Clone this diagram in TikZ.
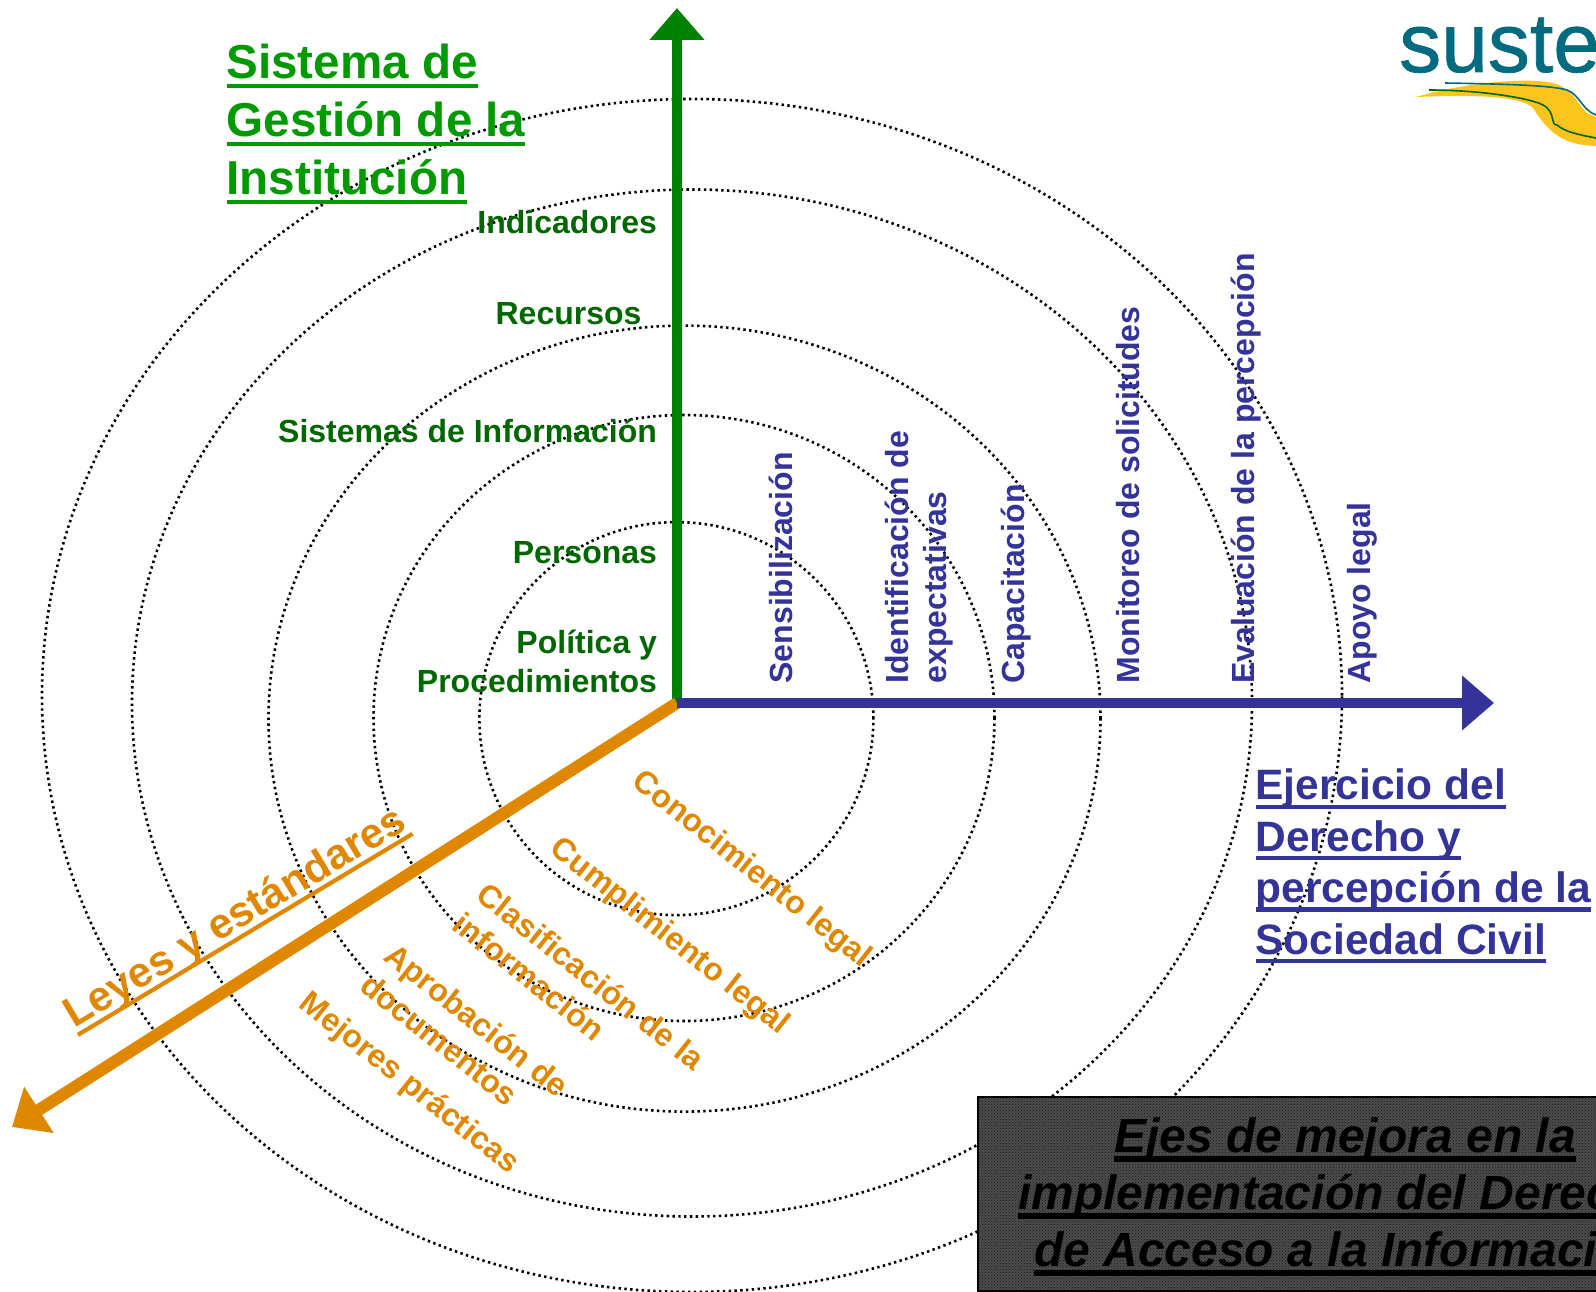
\documentclass[tikz,border=0pt]{standalone}
\usepackage{fontspec}
\usepackage{xcolor}
\usepackage{tikz}
\usetikzlibrary{arrows.meta, patterns}
\setmainfont{Liberation Sans}
\newfontfamily\logofont[FakeBold=0.9]{Liberation Sans}
\definecolor{ejegreen}{RGB}{0,130,0}
\definecolor{titlegreen}{RGB}{0,153,0}
\definecolor{labelgreen}{RGB}{0,102,0}
\definecolor{ejeblue}{RGB}{51,51,153}
\definecolor{ejeorange}{RGB}{224,135,0}
\definecolor{logoteal}{RGB}{0,106,127}
\definecolor{logoyellow}{RGB}{253,196,30}
\newsavebox{\ulbox}
\newlength{\ulthick}
\newlength{\uldrop}
\setlength{\ulthick}{4.2pt}
\setlength{\uldrop}{9pt}
\newcommand{\ulined}[1]{\sbox{\ulbox}{#1}\leavevmode\rlap{\raisebox{-\uldrop}{\rule{\wd\ulbox}{\ulthick}}}\usebox{\ulbox}}

\begin{document}
\begin{tikzpicture}[x=1pt, y=-1pt,
        ring/.style={draw=black, line width=2.6pt, dash pattern=on 2.4pt off 3.4pt},
        axis/.style={line width=10.5pt, -{Triangle[length=32pt, width=53pt]}},
        green label/.style={text=labelgreen, font=\bfseries\fontsize{32}{38.7}\selectfont, anchor=east, align=right},
        blue label/.style={text=ejeblue, font=\bfseries\fontsize{32}{38.7}\selectfont, rotate=90, anchor=west, align=left},
        orange label/.style={text=ejeorange, font=\bfseries\fontsize{32}{38.7}\selectfont, rotate=-38.5, anchor=west, align=left}]
            \useasboundingbox (0, 0) rectangle (1596, 1292);

            \draw[ring] (676.4, 718.6) ellipse [x radius=197pt, y radius=196.5pt];
            \draw[ring] (684, 718) ellipse [x radius=310.5pt, y radius=303pt];
            \draw[ring] (684.5, 718.6) ellipse [x radius=416pt, y radius=393pt];
            \draw[ring] (692, 703) ellipse [x radius=560pt, y radius=513.5pt];
            \draw[ring] (692, 695.5) ellipse [x radius=650pt, y radius=596.5pt];

            \coordinate (O) at (677, 703);
            \coordinate (gestion) at (677, 8);
            \coordinate (derecho) at (1494, 703);
            \coordinate (leyes) at (12, 1127);

            \draw[axis, ejegreen] (O) -- (gestion);
            \draw[axis, ejeorange, line width=12pt] (O) -- (leyes);
            \draw[axis, ejeblue] (O) -- (derecho);

            \node[text=titlegreen, font=\bfseries\fontsize{47.6}{58}\selectfont, anchor=west, align=left] (tGestion) at (223, 124) {\ulined{Sistema de}\\\ulined{Gestión de la}\\\ulined{Institución}};
            \node[text=ejeblue, font=\bfseries\fontsize{42.5}{51.4}\selectfont, anchor=west, align=left] (tDerecho) at (1252, 866) {\ulined{Ejercicio del}\\\ulined{Derecho y}\\\ulined{percepción de la}\\\ulined{Sociedad Civil}};
            \node[text=ejeorange, font=\bfseries\fontsize{42.3}{50}\selectfont, rotate=31] (tLeyes) at (236, 919) {\ulined{Leyes y estándares}};

            \node[green label] (g1) at (660.5, 222) {Indicadores};
            \node[green label] (g2) at (645, 313.5) {Recursos};
            \node[green label] (g3) at (660.5, 430.6) {Sistemas de Información};
            \node[green label] (g4) at (660.5, 553) {Personas};
            \node[green label] (g5) at (660.5, 661.6) {Política y\\Procedimientos};

            \node[blue label] (b1) at (781, 687) {Sensibilización};
            \node[blue label] (b2) at (919, 687) {Identificación de\\expectativas};
            \node[blue label] (b3) at (1016, 687) {Capacitación};
            \node[blue label] (b4) at (1128, 687) {Monitoreo de solicitudes};
            \node[blue label] (b5) at (1246, 687) {Evaluación de la percepción};
            \node[blue label] (b6) at (1362, 687) {Apoyo legal};

            \node[orange label] (o1) at (633, 776) {Conocimiento legal};
            \node[orange label] (o2) at (551, 843) {Cumplimiento legal};
            \node[orange label] (o3) at (467, 902) {Clasificación de la\\información};
            \node[orange label] (o4) at (374.5, 963) {Aprobación de\\documentos};
            \node[orange label] (o5) at (300, 998) {Mejores prácticas};

            \draw[black, line width=2.5pt, fill=black!70] (978, 1097) rectangle (1600, 1291);
            \fill[pattern=crosshatch dots, pattern color=black!90] (978, 1097) rectangle (1600, 1291);
            \setlength{\ulthick}{6pt}
            \node[text=black, font=\bfseries\itshape\fontsize{48}{57}\selectfont, align=center] (tEjes) at (1345, 1197) {\ulined{Ejes de mejora en la}\\\ulined{implementación del Derecho}\\\ulined{de Acceso a la Información}};

            % logo
            \fill[logoyellow] (1416, 97) .. controls (1463, 83) and (1520, 78) .. (1547, 82) .. controls (1570, 85) and (1575, 100) .. (1587, 113) -- (1596, 117) -- (1596, 146) .. controls (1565, 145) and (1550, 135) .. (1533, 108) .. controls (1520, 95) and (1470, 95) .. (1416, 97) -- cycle;
            \draw[logoteal, line width=1.6pt] (1445, 83) .. controls (1500, 84) and (1550, 85) .. (1567, 90) .. controls (1580, 95) and (1582, 110) .. (1596, 115);
            \draw[labelgreen, line width=1.6pt] (1429, 90) .. controls (1480, 90) and (1530, 98) .. (1543, 105) .. controls (1556, 112) and (1550, 125) .. (1557, 125) .. controls (1565, 132) and (1580, 135) .. (1596, 138);
            \node[text=logoteal, font=\logofont\fontsize{84}{84}\selectfont, anchor=base west, inner sep=0pt] (logo) at (1399, 72) {suste};
        \end{tikzpicture}
\end{document}
